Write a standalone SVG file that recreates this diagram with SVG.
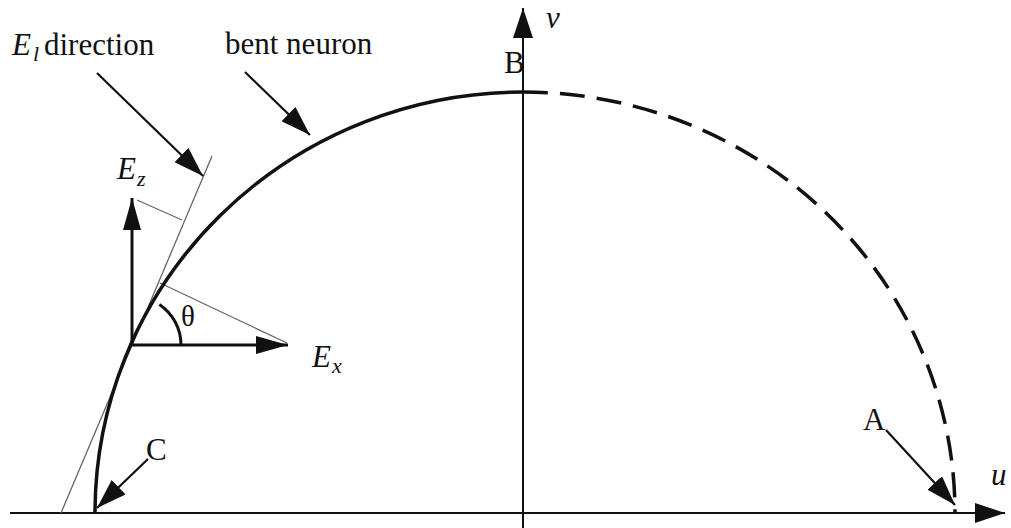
<svg xmlns="http://www.w3.org/2000/svg" width="1011" height="528" viewBox="0 0 1011 528">
<style>
.t{font-family:"Liberation Serif","Times New Roman",serif;font-size:31px;fill:#111}
.i{font-style:italic}
.sub{font-size:22px}
.ax{stroke:#111;stroke-width:2;fill:none}
.ar{stroke:#111;stroke-width:2.2;fill:none}
.vec{stroke:#111;stroke-width:3;fill:none}
.thin{stroke:#666;stroke-width:1.3;fill:none}
</style>
<defs>
<marker id="ah" markerUnits="userSpaceOnUse" markerWidth="30" markerHeight="20" refX="30" refY="10" orient="auto" viewBox="0 0 30 20">
<path d="M0,0 L30,10 L0,20 z" fill="#111"/>
</marker>
<marker id="ahs" markerUnits="userSpaceOnUse" markerWidth="32" markerHeight="18" refX="32" refY="9" orient="auto" viewBox="0 0 32 18">
<path d="M0,0 L32,9 L0,18 z" fill="#111"/>
</marker>
</defs>
<rect width="1011" height="528" fill="#fff"/>

<g id="axes">
<line class="ax" x1="10" y1="513" x2="1005" y2="513" marker-end="url(#ah)"/>
<line class="ax" x1="523" y1="528" x2="523" y2="8" marker-end="url(#ah)"/>
</g>

<g id="tangent">
<line class="thin" x1="61" y1="513" x2="212" y2="156"/>
<line class="thin" x1="137" y1="200" x2="182" y2="220"/>
<line class="thin" x1="160" y1="283" x2="287" y2="343"/>
</g>

<g id="neuron">
<path d="M95,513 A428,421 0 0 1 523,92" stroke="#111" stroke-width="3.5" fill="none"/>
<path d="M523,92 A432,421 0 0 1 955,513" stroke="#111" stroke-width="3.5" fill="none" stroke-dasharray="25,12"/>
</g>

<g id="vectors">
<line class="vec" x1="131" y1="345" x2="288" y2="345" marker-end="url(#ahs)"/>
<line class="vec" x1="132" y1="346" x2="132" y2="198" marker-end="url(#ahs)"/>
<path class="vec" d="M159.4,304.4 A49,49 0 0 1 181,345"/>
</g>

<g id="connectors">
<line class="ar" x1="97" y1="73" x2="203" y2="176" marker-end="url(#ah)"/>
<line class="ar" x1="245" y1="72" x2="310" y2="135" marker-end="url(#ah)"/>
<line class="ar" x1="148" y1="459" x2="97" y2="508" marker-end="url(#ah)"/>
<line class="ar" x1="886" y1="430" x2="955" y2="505" marker-end="url(#ah)"/>
</g>

<g id="label-El">
<text class="t" x="12" y="55"><tspan class="i">E</tspan><tspan class="i sub" x="33" dy="6">l</tspan><tspan dy="-6" x="44">direction</tspan></text>
</g>
<g id="label-bent">
<text class="t" x="225" y="54">bent neuron</text>
</g>
<g id="label-Ez">
<text class="t" x="117" y="179"><tspan class="i">E</tspan><tspan class="i sub" x="137" dy="7">z</tspan></text>
</g>
<g id="label-Ex">
<text class="t" x="312" y="367"><tspan class="i">E</tspan><tspan class="i sub" x="332" dy="6">x</tspan></text>
</g>
<g id="label-theta">
<text class="t" x="181" y="326" style="font-size:29px">θ</text>
</g>
<g id="label-B"><text class="t" x="504" y="73">B</text></g>
<g id="label-v"><text class="t i" x="546" y="28">v</text></g>
<g id="label-C"><text class="t" x="146" y="460">C</text></g>
<g id="label-A"><text class="t" x="863" y="430">A</text></g>
<g id="label-u"><text class="t i" x="991" y="485">u</text></g>
</svg>
